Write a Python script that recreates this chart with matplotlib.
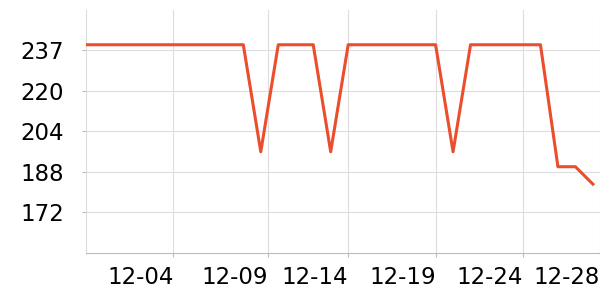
import matplotlib
matplotlib.use("Agg")
import matplotlib.pyplot as plt
import matplotlib.dates as mdates
import pandas as pd

# daily values, 11-29 .. 12-28
dates = pd.date_range("2023-11-29", "2023-12-28", freq="D")
values = [239, 239, 239, 239, 239, 239, 239, 239, 239, 239,
          196, 239, 239, 239, 196, 239, 239, 239, 239, 239,
          239, 196, 239, 239, 239, 239, 239, 190, 190, 183]

# tick positions as they sit on the original axis
xtick_dates = ["2023-12-04 00:00", "2023-12-09 10:00", "2023-12-14 00:00",
               "2023-12-19 00:00", "2023-12-24 00:00", "2023-12-28 10:00"]
xtick_labels = ["12-04", "12-09", "12-14", "12-19", "12-24", "12-28"]
y_min, y_max = 155.5, 253.0
ytick_values = [171.75, 188.0, 204.25, 220.5, 236.75]
ytick_labels = ["172", "188", "204", "220", "237"]

fig = plt.figure(figsize=(6, 3), dpi=100)
ax = fig.add_axes([0.1433, 0.158, 0.857, 0.809])

ax.plot(dates, values, color="#eb4d2d", linewidth=2.2, zorder=3)

ax.set_xlim(pd.Timestamp("2023-11-29"), pd.Timestamp("2023-12-28 10:00"))
ax.set_ylim(y_min, y_max)

xt = [mdates.date2num(pd.Timestamp(d)) for d in xtick_dates]
ax.set_xticks(xt)
ax.set_xticklabels(xtick_labels, ha="right")
ax.set_yticks(ytick_values)
ax.set_yticklabels(ytick_labels)

ax.grid(True, color="#dddddd", linewidth=0.8)
ax.set_axisbelow(True)

for side in ("top", "right"):
    ax.spines[side].set_visible(False)
ax.spines["left"].set_color("#dddddd")
ax.spines["bottom"].set_color("#bbbbbb")
ax.spines["left"].set_linewidth(0.8)
ax.spines["bottom"].set_linewidth(0.8)

ax.tick_params(axis="y", length=3, width=0.8, color="#bbbbbb", pad=13,
               labelsize=16.5)
ax.tick_params(axis="x", length=3, width=0.8, color="#bbbbbb", pad=7,
               labelsize=16.5)

fig.savefig("out.png", dpi=100)
